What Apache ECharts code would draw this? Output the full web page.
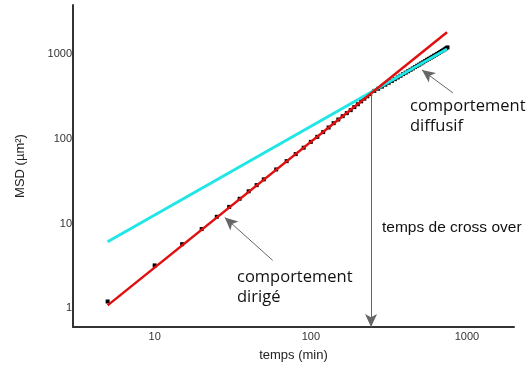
<!DOCTYPE html>
<html><head><meta charset="utf-8">
<script src="https://cdn.jsdelivr.net/npm/echarts@6/dist/echarts.min.js"></script>
<style>html,body{margin:0;padding:0;background:#fff}#c{width:526px;height:367px}</style>
</head><body><div id="c"></div>
<script>
// Measured MSD data (time in min, MSD in µm²)
const times = [5,10,15,20,25,30,35,40,45,50,60,70,80,90,100,110,120,130,140,150,160,170,180,190,200,210,220,230,240,255,270,285,300,315,330,345,360,375,390,405,420,435,450,465,480,495,510,525,540,555,570,585,600,615,630,645,660,675,690,705,720,735,750];
const msd   = [1.2,3.2,5.7,8.6,12.0,15.7,19.6,24,28.4,33.2,43.5,54.5,66,78.5,92,105.5,120,136,153,169,185,201,218,237,256,277,298,318,338,368,390,413,436,459,482,506,530,555,580,604,628,653,678,703,728,752,778,802,830,856,880,905,930,956,980,1006,1030,1058,1085,1110,1140,1170,1200];
// Fit lines (endpoints, log-log straight lines)
const directedFitT = [5, 745];
const directedFitY = [1.08, 1815];
const diffusiveFitT = [5, 745];
const diffusiveFitY = [6.1, 1150];
// Annotation points (data coords)
const crossOverT = 243, crossOverY = 347;
const dirigeArrow = [[57, 3.67], [28.1, 11.8]];
const diffusifArrow = [[813, 348], [515, 649]];
const xTicks = [10, 100, 1000];
const yTicks = [1, 10, 100, 1000];

const zip = (a, b) => a.map((v, i) => [v, b[i]]);
const chart = echarts.init(document.getElementById('c'), null, {renderer: 'canvas'});
const isTick = (arr) => (v) => arr.some(t => Math.abs(v - t) / t < 1e-6) ? String(Math.round(v)) : '';
chart.setOption({
  animation: false,
  backgroundColor: '#fff',
  grid: {left: 73, top: 5, right: 12, bottom: 39},
  xAxis: {
    type: 'log', min: 3, max: 2000, logBase: 10,
    name: 'temps (min)', nameLocation: 'middle', nameGap: 22,
    nameTextStyle: {fontFamily: 'Liberation Sans', fontSize: 13, color: '#222'},
    axisLine: {lineStyle: {color: '#333', width: 2}},
    axisTick: {show: false}, splitLine: {show: false}, minorTick: {show: false},
    axisLabel: {formatter: isTick(xTicks), fontFamily: 'Liberation Sans', fontSize: 11, color: '#333', margin: 4, showMinLabel: false, showMaxLabel: false}
  },
  yAxis: {
    type: 'log', min: 0.6, max: 3800, logBase: 10,
    name: 'MSD (µm²)', nameLocation: 'middle', nameGap: 46, nameRotate: 90,
    nameTextStyle: {fontFamily: 'Liberation Sans', fontSize: 13, color: '#222'},
    axisLine: {lineStyle: {color: '#333', width: 2}},
    axisTick: {show: false}, splitLine: {show: false},
    axisLabel: {formatter: isTick(yTicks), fontFamily: 'Liberation Sans', fontSize: 11, color: '#333', margin: 1, showMinLabel: false, showMaxLabel: false}
  },
  series: [
    {type: 'scatter', data: zip(times, msd), symbol: 'rect', symbolSize: 4,
     itemStyle: {color: '#000', opacity: 1}, z: 2},
    {type: 'line', data: zip(diffusiveFitT, diffusiveFitY), symbol: 'none',
     lineStyle: {color: '#22e6e6', width: 3}, z: 3},
    {type: 'line', data: zip(directedFitT, directedFitY), symbol: 'none',
     lineStyle: {color: '#e01010', width: 2.5}, z: 4,
     markLine: {
       silent: true, symbol: ['none', 'arrow'], symbolSize: [9, 13], label: {show: false},
       lineStyle: {type: 'solid', color: '#666', width: 1},
       itemStyle: {color: '#000'},
       data: [
         [{coord: [crossOverT, crossOverY]}, {coord: [crossOverT, 0.6]}],
         [{coord: dirigeArrow[0]}, {coord: dirigeArrow[1]}],
         [{coord: diffusifArrow[0]}, {coord: diffusifArrow[1]}]
       ]
     }}
  ],
  graphic: [
    {type: 'text', left: 237, top: 267, style: {text: 'comportement\ndirigé', font: '16.5px "Open Sans"', lineHeight: 20, fill: '#111'}},
    {type: 'text', left: 410, top: 96, style: {text: 'comportement\ndiffusif', font: '16.5px "Open Sans"', lineHeight: 20, fill: '#111'}},
    {type: 'text', left: 382, top: 220, style: {text: 'temps de cross over', font: '15.5px "Liberation Sans"', fill: '#111'}}
  ]
});
</script></body></html>
